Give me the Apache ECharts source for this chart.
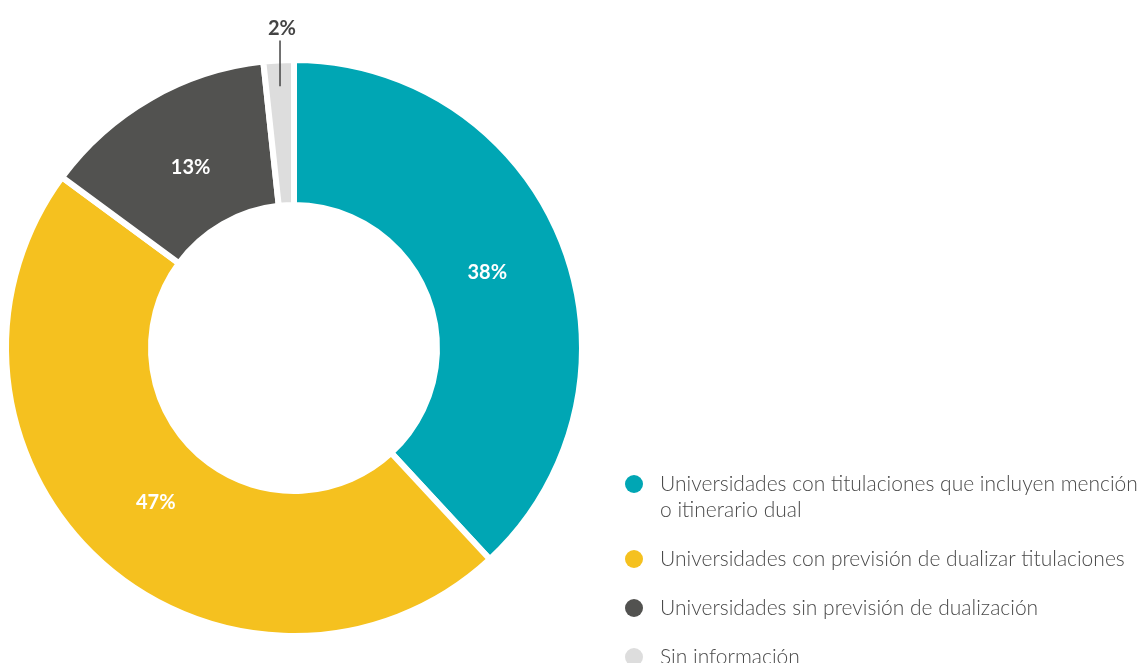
<!DOCTYPE html>
<html>
<head>
<meta charset="utf-8">
<style>
  html, body { margin: 0; padding: 0; background: #ffffff; }
  #chart { width: 1142px; height: 663px; }
</style>
<script src="https://cdn.jsdelivr.net/npm/echarts@6/dist/echarts.min.js"></script>
</head>
<body>
<div id="chart"></div>
<script>
// datos del gráfico
var categories = [
  'Universidades con titulaciones que incluyen mención\no itinerario dual',
  'Universidades con previsión de dualizar titulaciones',
  'Universidades sin previsión de dualización',
  'Sin información'
];
var values = [38.1, 47.0, 13.2, 1.7];
var colors = ['#00a6b4', '#f5c11f', '#525250', '#dddddd'];

var pieCenter = [294, 348];
var pieRadius = [143, 288];

var chart = echarts.init(document.getElementById('chart'));

function pct(params) {
  return Math.round(params.percent) + '%';
}

var option = {
  animation: false,
  textStyle: { fontFamily: 'Lato' },
  legend: {
    orient: 'vertical',
    left: 625,
    top: 445,
    padding: 0,
    itemGap: 23,
    itemWidth: 42,
    itemHeight: 18,
    icon: 'circle',
    selectedMode: false,
    itemStyle: { borderWidth: 0 },
    formatter: function (name) {
      // linea vacia arriba para que el icono quede junto a la primera linea
      return name.indexOf('\n') >= 0 ? '\n' + name : name;
    },
    textStyle: {
      fontFamily: 'Lato',
      fontSize: 21,
      fontWeight: 300,
      color: '#4a4a4a',
      lineHeight: 26
    },
    data: categories
  },
  series: [{
    type: 'pie',
    z: 2,
    center: pieCenter,
    radius: pieRadius,
    startAngle: 90,
    clockwise: true,
    silent: true,
    itemStyle: { borderColor: '#ffffff', borderWidth: 6 },
    label: {
      show: true,
      position: 'inside',
      formatter: pct,
      color: '#ffffff',
      fontFamily: 'Lato',
      fontSize: 20,
      fontWeight: 'bold'
    },
    labelLine: { show: false },
    labelLayout: function (params) {
      var r = params.labelRect;
      var lx = r.x + r.width / 2, ly = r.y + r.height / 2;
      var k = 0.95;
      return {
        x: pieCenter[0] + (lx - pieCenter[0]) * k,
        y: pieCenter[1] + (ly - pieCenter[1]) * k,
        align: 'center',
        verticalAlign: 'middle'
      };
    },
    data: categories.map(function (name, i) {
      var item = { name: name, value: values[i], itemStyle: { color: colors[i] } };
      if (i === 3) item.label = { show: false };
      return item;
    })
  }, {
    // capa superior solo para la etiqueta exterior del 2%
    type: 'pie',
    z: 5,
    center: pieCenter,
    radius: pieRadius,
    startAngle: 90,
    clockwise: true,
    silent: true,
    itemStyle: { color: 'rgba(0,0,0,0)', borderWidth: 0 },
    label: { show: false },
    labelLine: { show: false },
    labelLayout: function (params) {
      var pts = params.labelLinePoints;
      if (!pts) return;
      var p0 = pts[0], p1 = pts[1];
      var dx = p1[0] - p0[0], dy = p1[1] - p0[1];
      var len = Math.sqrt(dx * dx + dy * dy) || 1;
      var start = [p0[0] - dx / len * 26, p0[1] - dy / len * 26];
      var top = [start[0], p1[1]];
      return {
        x: start[0] + 2,
        y: p1[1] - 2,
        align: 'center',
        verticalAlign: 'bottom',
        labelLinePoints: [start, top, top]
      };
    },
    data: categories.map(function (name, i) {
      var item = { name: name, value: values[i] };
      if (i === 3) {
        item.label = {
          show: true,
          position: 'outside',
          formatter: pct,
          color: '#444444',
          fontFamily: 'Lato',
          fontSize: 20,
          fontWeight: 'bold'
        };
        item.labelLine = { show: true, length: 20, length2: 0, lineStyle: { color: '#444444', width: 1.5 } };
      }
      return item;
    })
  }]
};

chart.setOption(option);
</script>
</body>
</html>
